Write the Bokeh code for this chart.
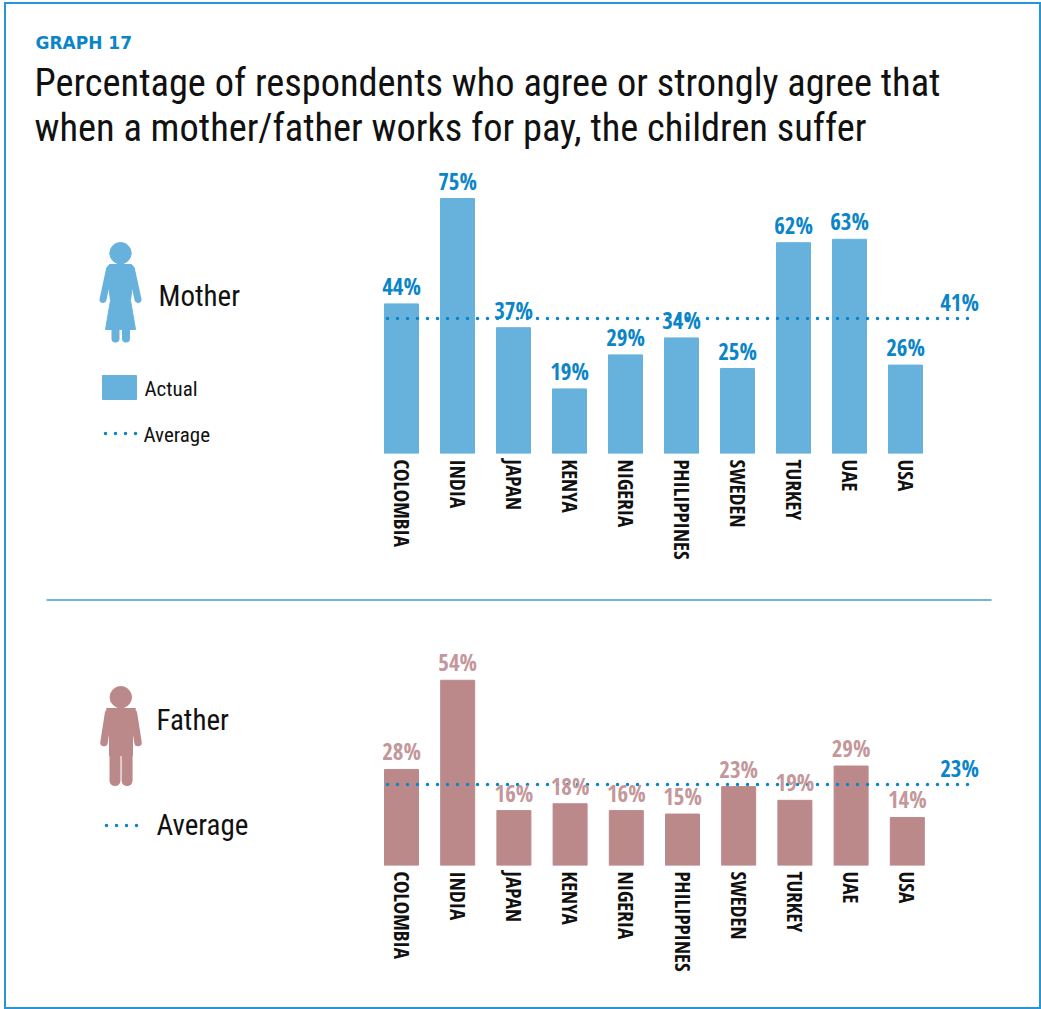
from bokeh.plotting import figure
from bokeh.layouts import column
from bokeh.models import Range1d, LinearAxis, FixedTicker, ColumnDataSource
from bokeh.core.properties import value
from bokeh.embed import file_html
from bokeh.resources import INLINE

countries = ["COLOMBIA", "INDIA", "JAPAN", "KENYA", "NIGERIA", "PHILIPPINES", "SWEDEN", "TURKEY", "UAE", "USA"]
mother_values = [44, 75, 37, 19, 29, 34, 25, 62, 63, 26]
father_values = [28, 54, 16, 18, 16, 15, 23, 19, 29, 14]
mother_avg_label = "41%"
father_avg_label = "23%"
mother_avg_level = 39.7
father_avg_level = 23.6

BAR_BLUE = "#67b2dd"
TEXT_BLUE = "#0a85c8"
ROSE = "#bc898b"
ROSE_TEXT = "#c4979a"
RULE = "#3f9ed3"
FRAME = "#2a95d5"
NARROW = "Roboto Condensed"
TICKF = "Open Sans Condensed"
IDX = list(range(len(countries)))
DOTS = "0 10"


def panel(height, top, base, values, avg, avg_label, bar_color, label_color, px_per_pct, step, below):
    p = figure(width=1037, height=height, output_backend="svg", toolbar_location=None,
               x_range=Range1d(4, 1041), y_range=Range1d(base, top),
               min_border_left=0, min_border_right=0, min_border_top=0, min_border_bottom=below,
               background_fill_color=None, border_fill_color=None, outline_line_color=None,
               x_axis_location=None, y_axis_location=None)
    p.grid.visible = False
    p.extra_x_ranges["idx"] = Range1d((4 - 401) / step, (1041 - 401) / step)
    p.extra_y_ranges["pct"] = Range1d(0, (base - top) / px_per_pct)

    ax = LinearAxis(x_range_name="idx", ticker=FixedTicker(ticks=IDX),
                    major_label_overrides={i: c for i, c in enumerate(countries)},
                    major_label_orientation="vertical", major_label_standoff=0,
                    major_label_text_font=TICKF, major_label_text_font_size="21px",
                    major_label_text_color="#111111",
                    axis_line_color=None, major_tick_line_color=None, minor_tick_line_color=None)
    p.add_layout(ax, "below")

    src = ColumnDataSource(dict(i=IDX, v=values, t=[f"{v}%" for v in values]))
    p.vbar(x="i", top="v", bottom=0, width=34 / step, source=src, color=bar_color,
           x_range_name="idx", y_range_name="pct")
    p.line(x=[387, 976], y=[avg, avg], y_range_name="pct", line_color=TEXT_BLUE, line_width=3.5,
           line_dash=DOTS, line_cap="round")
    p.text(x="i", y="v", text="t", source=src, x_range_name="idx", y_range_name="pct",
           text_align="center", text_baseline="alphabetic", y_offset=-18,
           text_font=value(TICKF), text_font_size="23px", text_color=label_color)
    p.text(x=[959], y=[avg], text=[avg_label], y_range_name="pct", text_align="center",
           text_baseline="alphabetic", y_offset=-17, text_font=value(TICKF),
           text_font_size="23px", text_color=TEXT_BLUE)
    return p


def caption(p, x, y, s, size, color="#111111", font=NARROW, style="normal"):
    # size is in px; the offset brings the drawn baseline back up to y
    p.text(x=[x], y=[y - 0.35 * size], text=[s], text_align="left", text_baseline="alphabetic",
           text_font=value(font), text_font_size=f"{size}px", text_color=color, text_font_style=style)


top = panel(596, 2, 453, mother_values, mother_avg_level, mother_avg_label, BAR_BLUE, TEXT_BLUE, 3.4, 56, 145)
bot = panel(411, 598, 865, father_values, father_avg_level, father_avg_label, ROSE, ROSE_TEXT, 3.43, 56.2, 144)

# header
caption(top, 35, 48, "GRAPH 17", 17, TEXT_BLUE, "DejaVu Sans", "bold")
caption(top, 34, 95, "Percentage of respondents who agree or strongly agree that", 38.4)
caption(top, 34, 140, "when a mother/father works for pay, the children suffer", 38.4)

# mother icon
top.circle(x=[120], y=[252.7], radius=10.7, color=BAR_BLUE)
top.patch(x=[109, 131, 134, 130, 135, 105, 110, 106], y=[264, 264, 268, 300, 329, 329, 300, 268], color=BAR_BLUE)
top.multi_line(xs=[[109, 102.5], [131, 137.5], [115, 115], [125.5, 125.5]],
               ys=[[269, 299], [269, 299], [328, 338], [328, 338]],
               line_color=BAR_BLUE, line_width=[7, 7, 8, 8], line_cap="round")
caption(top, 158, 306, "Mother", 29)
top.quad(left=[102], right=[136], top=[375], bottom=[399], color=BAR_BLUE)
caption(top, 144, 396, "Actual", 21)
top.line(x=[105, 139], y=[433, 433], line_color=TEXT_BLUE, line_width=3.5, line_dash=DOTS, line_cap="round")
caption(top, 143, 442, "Average", 21)

# father icon
bot.circle(x=[120.3], y=[696.7], radius=10.7, color=ROSE)
bot.patch(x=[106, 135, 132, 132, 109, 109], y=[708, 708, 716, 755, 755, 716], color=ROSE)
bot.multi_line(xs=[[108, 103.5], [133, 137.5], [114.5, 114.5], [126.6, 126.6]],
               ys=[[713, 742], [713, 742], [750, 780], [750, 780]],
               line_color=ROSE, line_width=[7.5, 7.5, 11, 11], line_cap="round")
caption(bot, 156, 730, "Father", 29)
bot.line(x=[106, 141], y=[825, 825], line_color=TEXT_BLUE, line_width=3.5, line_dash=DOTS, line_cap="round")
caption(bot, 156, 835, "Average", 29)

# divider between panels
bot.line(x=[46, 991], y=[599.5, 599.5], line_color=RULE, line_width=1.5)

page = column(top, bot, spacing=0, margin=(2, 0, 0, 4),
              styles={"outline": f"2px solid {FRAME}", "outline-offset": "-2px"})
open("out.html", "w").write(file_html(page, INLINE))
